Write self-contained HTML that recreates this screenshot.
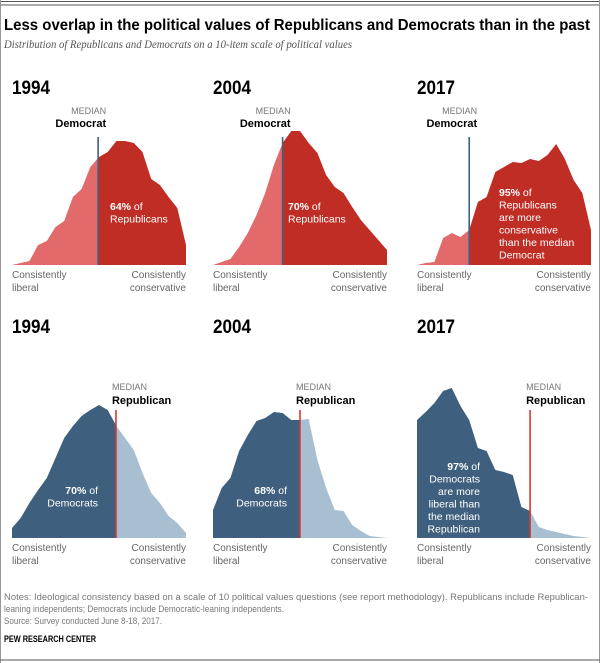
<!DOCTYPE html>
<html><head><meta charset="utf-8">
<style>
html,body{margin:0;padding:0;background:#fff;}
svg{display:block;font-family:"Liberation Sans",sans-serif;}
</style></head>
<body>
<svg id="chart" width="600" height="663" viewBox="0 0 600 663">
  <rect x="0" y="0" width="600" height="663" fill="#fff"/>
  <line x1="0" y1="1.5" x2="600" y2="1.5" stroke="#555" stroke-width="1"/>
  <line x1="0" y1="5" x2="600" y2="5" stroke="#555" stroke-width="1"/>
  <line x1="0.5" y1="0" x2="0.5" y2="663" stroke="#999"/>
  <line x1="599.5" y1="0" x2="599.5" y2="663" stroke="#999"/>
  <line x1="0" y1="660" x2="600" y2="660" stroke="#555"/>
  <text x="4" y="30" font-size="15.5" font-weight="bold" fill="#000" textLength="586" lengthAdjust="spacingAndGlyphs">Less overlap in the political values of Republicans and Democrats than in the past</text>
  <text x="4" y="48" font-size="11.5" font-style="italic" fill="#555" font-family="Liberation Serif, serif" textLength="348" lengthAdjust="spacingAndGlyphs">Distribution of Republicans and Democrats on a 10-item scale of political values</text>
  <g id="panels"></g>
  <text x="4" y="600" font-size="9.5" fill="#777" textLength="584" lengthAdjust="spacingAndGlyphs">Notes: Ideological consistency based on a scale of 10 political values questions (see report methodology). Republicans include Republican-</text>
  <text x="4" y="612" font-size="9.5" fill="#777" textLength="280" lengthAdjust="spacingAndGlyphs">leaning independents; Democrats include Democratic-leaning independents.</text>
  <text x="4" y="624" font-size="9.5" fill="#777" textLength="158" lengthAdjust="spacingAndGlyphs">Source: Survey conducted June 8-18, 2017.</text>
  <text x="4" y="642" font-size="9.5" font-weight="bold" fill="#000" textLength="92" lengthAdjust="spacingAndGlyphs">PEW RESEARCH CENTER</text>
</svg>
<script>
// Data: density of each party along the 0..20 scale position
const years = ["1994","2004","2017","1994","2004","2017"];
const rep1994 = [0,2,4,20,24,38,44,68,76,98,108,113,124,124,122,113,86,80,68,57,20];
const rep2004 = [0,3,6,18,32,50,72,100,122,134,134,122,112,90,78,72,58,45,35,25,15];
const rep2017 = [0,2,3,27,32,28,35,63,68,93,98,103,102,106,104,110,121,106,85,72,35];
const dem1994 = [10,20,35,48,60,80,100,112,122,128,133,128,112,100,88,65,45,35,22,15,5];
const dem2004 = [28,50,60,87,103,117,120,126,125,118,118,119,78,50,28,27,13,7,2,1,0];
const dem2017 = [118,126,135,147,150,132,118,90,87,68,66,63,31,27,11,8,6,4,2,1,0];
const medians = [9.9, 8.0, 6.0, 11.95, 10.0, 13.0];
const pctLabels = ["64%","70%","95%","70%","68%","97%"];

const series = [rep1994, rep2004, rep2017, dem1994, dem2004, dem2017];
const lefts = [12,213,417,12,213,417];
const W = 174;
const baselines = [265,265,265,538,538,538];
const NS = "http://www.w3.org/2000/svg";
const g = document.getElementById('panels');

function mk(tag, attrs, parent){
  const e = document.createElementNS(NS, tag);
  for (const k in attrs) e.setAttribute(k, attrs[k]);
  (parent||g).appendChild(e);
  return e;
}
function txt(x,y,s,attrs,parent){
  const t = mk('text', Object.assign({x:x,y:y}, attrs), parent);
  t.textContent = s;
  return t;
}
const defs = mk('defs', {});

for (let p=0; p<6; p++){
  const vals = series[p];
  const left = lefts[p], base = baselines[p];
  const n = vals.length;
  const xs = i => left + i*W/(n-1);
  const ys = v => base - v;
  const isRep = p < 3;
  const pg = mk('g', {});
  
  

  let d = 'M' + xs(0) + ',' + base;
  vals.forEach((v,i)=>{ d += ' L' + xs(i).toFixed(1) + ',' + ys(v).toFixed(1); });
  d += ' L' + xs(n-1) + ',' + base + ' Z';
  const mx = xs(medians[p]);

  const cl = mk('clipPath', {id:'cl'+p}, defs);
  mk('rect', {x:0, y:0, width:mx, height:663}, cl);
  const cr = mk('clipPath', {id:'cr'+p}, defs);
  mk('rect', {x:mx, y:0, width:600-mx, height:663}, cr);

  const leftCol = isRep ? '#e26a6a' : '#3f5f7e';
  const rightCol = isRep ? '#bf2d25' : '#a8bfd2';
  const a1 = mk('path', {d:d, fill:leftCol, 'clip-path':'url(#cl'+p+')'}, pg);
  
  
  const a2 = mk('path', {d:d, fill:rightCol, 'clip-path':'url(#cr'+p+')'}, pg);
  
  

  const ml = mk('line', {x1:mx, x2:mx, y1:base-128, y2:base, stroke: isRep?'#3d6283':'#d33a30', 'stroke-width':1.6}, pg);
  
  

  const yr = txt(left, isRep?94:333, years[p], {'font-size':19, 'font-weight':'bold', fill:'#000', textLength:38, lengthAdjust:'spacingAndGlyphs'}, pg);
  
  

  if (isRep){
    const m1 = txt(mx+8, 114, 'MEDIAN', {'font-size':9, fill:'#777', 'text-anchor':'end'}, pg);
    
    
    const m2 = txt(mx+8, 127, 'Democrat', {'font-size':11, 'font-weight':'bold', fill:'#000', 'text-anchor':'end'}, pg);
    
    
  } else {
    const m1 = txt(mx-4, 390, 'MEDIAN', {'font-size':9, fill:'#777'}, pg);
    
    
    const m2 = txt(mx-4, 404, 'Republican', {'font-size':11, 'font-weight':'bold', fill:'#000'}, pg);
    
    
  }

  const ly = base + 13;
  const l1 = txt(left, ly, 'Consistently', {'font-size':10, fill:'#666'}, pg);
  
  
  const l2 = txt(left, ly+13, 'liberal', {'font-size':10, fill:'#666'}, pg);
  
  
  const r1 = txt(left+W, ly, 'Consistently', {'font-size':10, fill:'#666', 'text-anchor':'end'}, pg);
  
  
  const r2 = txt(left+W, ly+13, 'conservative', {'font-size':10, fill:'#666', 'text-anchor':'end'}, pg);
  
  

  // annotation
  let lines, ax, ay, anchor;
  if (p===0){ lines=['of','Republicans']; ax=110; ay=210; anchor='start'; }
  if (p===1){ lines=['of','Republicans']; ax=288; ay=210; anchor='start'; }
  if (p===2){ lines=['of','Republicans','are more','conservative','than the median','Democrat']; ax=499; ay=196; anchor='start'; }
  if (p===3){ lines=['of','Democrats']; ax=98; ay=494; anchor='end'; }
  if (p===4){ lines=['of','Democrats']; ax=287; ay=494; anchor='end'; }
  if (p===5){ lines=['of','Democrats','are more','liberal than','the median','Republican']; ax=480; ay=470; anchor='end'; }
  const an = mk('text', {x:ax, y:ay, 'font-size':10.5, fill:'#fff', 'text-anchor':anchor}, pg);
  
  
  lines.forEach((s,i)=>{
    const ts = mk('tspan', {x:ax, dy: i===0?0:12.5}, an);
    if (i===0){
      const b = mk('tspan', {'font-weight':'bold'}, ts);
      b.textContent = pctLabels[p];
      const r = mk('tspan', {}, ts);
      r.textContent = ' ' + s;
    } else ts.textContent = s;
  });
}
</script>
</body></html>
